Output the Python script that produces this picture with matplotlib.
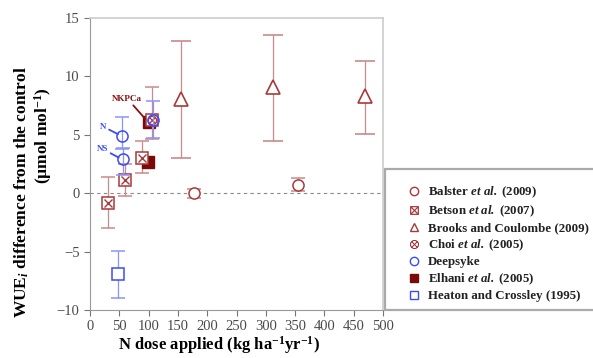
import matplotlib
matplotlib.use('Agg')
import matplotlib.pyplot as plt
from matplotlib.lines import Line2D
from matplotlib.patches import Rectangle
import numpy as np

# data (x = N dose, y = WUEi difference, lo/hi = bar ends)
balster_x = [178, 355]
balster_y = [0.0, 0.7]
balster_lo = [-0.4, 0.2]
balster_hi = [0.4, 1.3]

betson_x = [30, 60, 89]
betson_y = [-0.8, 1.15, 3.0]
betson_lo = [-3.0, -0.25, 1.7]
betson_hi = [1.4, 2.5, 4.45]

brooks_x = [156, 313, 469]
brooks_y = [8.1, 9.1, 8.3]
brooks_lo = [3.0, 4.5, 5.1]
brooks_hi = [13.0, 13.55, 11.35]

choi_x = [106]
choi_y = [6.3]
choi_lo = [4.6]
choi_hi = [9.1]

deep_x = [55, 56, 108]
deep_y = [4.9, 2.9, 6.25]
deep_lo = [3.8, 1.6, 4.7]
deep_hi = [6.5, 3.9, 7.9]

elhani_x = [99, 101]
elhani_y = [2.7, 6.1]

heaton_x = [47]
heaton_y = [-6.95]
heaton_lo = [-9.0]
heaton_hi = [-4.95]

labels = ['Balster $\\mathbfit{et}$ $\\mathbfit{al.}$ (2009)',
          'Betson $\\mathbfit{et}$ $\\mathbfit{al.}$ (2007)',
          'Brooks and Coulombe (2009)',
          'Choi $\\mathbfit{et}$ $\\mathbfit{al.}$ (2005)',
          'Deepsyke',
          'Elhani $\\mathbfit{et}$ $\\mathbfit{al.}$ (2005)',
          'Heaton and Crossley (1995)']

dred = '#a8383a'
ered = '#c98a8a'
blue = '#3b4cf5'
eblue = '#8a93f7'

plt.rcParams['font.family'] = 'serif'
plt.rcParams['font.serif'] = ['Liberation Serif', 'DejaVu Serif']
plt.rcParams['mathtext.fontset'] = 'custom'
plt.rcParams['mathtext.rm'] = 'Liberation Serif'
plt.rcParams['mathtext.it'] = 'Liberation Serif:italic'
plt.rcParams['mathtext.bf'] = 'Liberation Serif:bold'
plt.rcParams['mathtext.bfit'] = 'Liberation Serif:italic:bold'

fig = plt.figure(figsize=(5.93, 3.58), dpi=100)
ax = fig.add_axes([90/593, 1-310/358, 293/593, 292/358])


def errs(y, lo, hi):
    y = np.array(y)
    return [y - np.array(lo), np.array(hi) - y]


ax.axhline(0, color='#888888', lw=0.8, ls=(0, (3, 3)), zorder=1)

kw = dict(ls='none', capsize=4.7, elinewidth=0.9, capthick=0.9, ms=8, mew=1.1)

ax.errorbar(balster_x, balster_y, yerr=errs(balster_y, balster_lo, balster_hi),
            marker='o', mfc='white', mec=dred, ecolor=ered, **kw)
ax.errorbar(betson_x, betson_y, yerr=errs(betson_y, betson_lo, betson_hi),
            marker='s', mfc='white', mec=dred, ecolor=ered, **kw)
ax.plot(betson_x, betson_y, ls='none', marker='x', ms=6, mew=1.0, color=dred, zorder=3)
ax.errorbar(brooks_x, brooks_y, yerr=errs(brooks_y, brooks_lo, brooks_hi),
            marker='^', mfc='white', mec=dred, ecolor=ered, ms=10.5,
            ls='none', capsize=7, elinewidth=0.9, capthick=0.9, mew=1.2)
ax.plot(elhani_x, elhani_y, ls='none', marker='s', mfc='#7a0a0a', mec='#7a0a0a', ms=8)
ax.errorbar(choi_x, choi_y, yerr=errs(choi_y, choi_lo, choi_hi),
            marker='s', mfc='white', mec=dred, ecolor=ered, **kw)
ax.plot(choi_x, choi_y, ls='none', marker='o', ms=6, mfc='none', mec=dred, mew=1, zorder=3)
ax.plot(choi_x, choi_y, ls='none', marker='x', ms=4, mew=0.9, color=dred, zorder=3)
ax.errorbar(deep_x, deep_y, yerr=errs(deep_y, deep_lo, deep_hi),
            marker='o', mfc='none', mec=blue, ecolor=eblue, zorder=4, **kw)
ax.errorbar(heaton_x, heaton_y, yerr=errs(heaton_y, heaton_lo, heaton_hi),
            marker='s', mfc='white', mec=blue, ecolor=eblue, **kw)

# annotations
ax.annotate('NKPCa', xy=(99, 6.1), xytext=(38, 8.1), color='#8a0f0f', fontsize=6.5,
            fontweight='bold', va='center', ha='left',
            arrowprops=dict(arrowstyle='-', color='#8a0f0f', lw=1.3, shrinkA=0, shrinkB=3))
ax.annotate('N', xy=(50, 5.0), xytext=(17, 5.7), color=blue, fontsize=6.5,
            fontweight='bold', va='center', ha='left',
            arrowprops=dict(arrowstyle='-', color=blue, lw=1.3, shrinkA=0, shrinkB=1))
ax.annotate('NS', xy=(51, 3.0), xytext=(11, 3.8), color=blue, fontsize=6.5,
            fontweight='bold', va='center', ha='left',
            arrowprops=dict(arrowstyle='-', color=blue, lw=1.3, shrinkA=0, shrinkB=1))

ax.set_xlim(0, 500)
ax.set_ylim(-10, 15)
ax.set_xticks(np.arange(0, 501, 50))
ax.set_yticks([-10, -5, 0, 5, 10, 15])
ax.set_yticklabels(['\u221210', '\u22125', '0', '5', '10', '15'])
ax.tick_params(labelsize=10.5, colors='#777777', labelcolor='#4a4a4a', length=4, width=0.8)
for s in ['left', 'bottom']:
    ax.spines[s].set_color('#999999')
for s in ['top', 'right']:
    ax.spines[s].set_color('#cccccc')
    ax.spines[s].set_linewidth(1.2)

fig.text(219/593, 1-345/358, 'N dose applied (kg ha$^{\\mathbf{-1}}$yr$^{\\mathbf{-1}}$)',
         fontsize=12, fontweight='bold', ha='center', va='center')
fig.text(22/593, 1-192/358, 'WUE$_{\\mathbfit{i}}$ difference from the control',
         rotation=90, fontsize=12.5, fontweight='bold', ha='center', va='center')
fig.text(43/593, 1-136/358, '(\u00b5mol mol$^{\\mathbf{-1}}$)',
         rotation=90, fontsize=12.5, fontweight='bold', ha='center', va='center')

# legend: frame drawn by hand so it runs off the right edge like the reference
fig.patches.append(Rectangle((385/593, 1-310/358), 230/593, 141/358, transform=fig.transFigure,
                             facecolor='white', edgecolor='#aaaaaa', lw=1.6, zorder=5))
h = [
    Line2D([], [], ls='none', marker='o', mfc='white', mec=dred, ms=6, mew=1),
    Line2D([], [], ls='none', marker='$\\boxtimes$', color=dred, ms=6, mew=0.4),
    Line2D([], [], ls='none', marker='^', mfc='white', mec=dred, ms=6, mew=1),
    Line2D([], [], ls='none', marker='$\\otimes$', color=dred, ms=6, mew=0.4),
    Line2D([], [], ls='none', marker='o', mfc='white', mec=blue, ms=6, mew=1),
    Line2D([], [], ls='none', marker='s', mfc='#7a0a0a', mec='#7a0a0a', ms=5.5),
    Line2D([], [], ls='none', marker='s', mfc='white', mec=blue, ms=5.5, mew=1),
]
leg = fig.legend(h, labels, loc='upper left', bbox_to_anchor=(408/593, 1-185/358),
                 frameon=False, prop=dict(weight='bold', size=9.3),
                 handlelength=1.0, handletextpad=0.55, labelspacing=0.25, borderpad=0,
                 borderaxespad=0)
leg.set_zorder(6)
for t in leg.get_texts():
    t.set_color('#222222')

fig.savefig('out.png', dpi=100)
